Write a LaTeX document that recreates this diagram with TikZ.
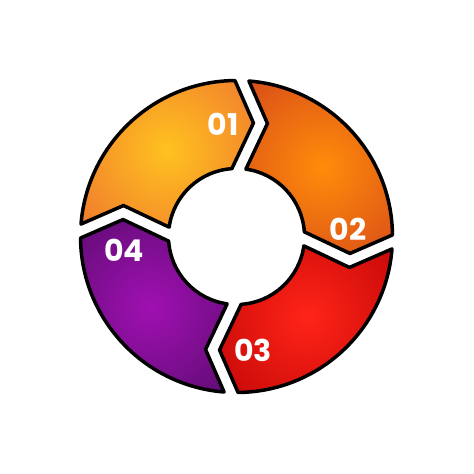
\documentclass[tikz,border=0pt]{standalone}
\usepackage{fontspec}
\setmainfont{Poppins}
\definecolor{oneIn}{HTML}{FFC21F}
\definecolor{oneOut}{HTML}{F07A2E}
\definecolor{twoIn}{HTML}{FF8C0A}
\definecolor{twoOut}{HTML}{D5481A}
\definecolor{threeIn}{HTML}{FF2418}
\definecolor{threeOut}{HTML}{C00606}
\definecolor{fourIn}{HTML}{A010B2}
\definecolor{fourOut}{HTML}{5A0C6E}
\newcommand\segpath{(87.43:156) arc[start angle=87.43, end angle=2.57, radius=156] -- (114,-13) -- (5.91:68) arc[start angle=5.91, end angle=84.09, radius=68] -- (27,114) -- cycle}
\begin{document}
\begin{tikzpicture}[x=1pt,y=1pt,
  outline/.style={draw=black, line width=3.5pt, line join=round},
  numlabel/.style={text=white, font=\bfseries\fontsize{30}{30}\selectfont, inner sep=0pt}]
\useasboundingbox[fill=white] (-236.5,-237.5) rectangle (237.5,236.5);
% segment 01
\begin{scope}
\clip[rotate=88] \segpath;
\shade[inner color=oneIn, outer color=oneOut] (-69.5,86.5) circle (115);
\end{scope}
\draw[outline, rotate=88] \segpath;
% segment 02
\begin{scope}
\clip[rotate=-2] \segpath;
\shade[inner color=twoIn, outer color=twoOut] (86.5,69.5) circle (125);
\end{scope}
\draw[outline, rotate=-2] \segpath;
% segment 03
\begin{scope}
\clip[rotate=-92] \segpath;
\shade[inner color=threeIn, outer color=threeOut] (70.5,-80.5) circle (125);
\end{scope}
\draw[outline, rotate=-92] \segpath;
% segment 04
\begin{scope}
\clip[rotate=178] \segpath;
\shade[inner color=fourIn, outer color=fourOut] (-86.5,-70.5) circle (125);
\end{scope}
\draw[outline, rotate=178] \segpath;
% labels
\node[numlabel] (l1) at (-13.5,112.5) {01};
\node[numlabel] (l2) at (111.5,7.5) {02};
\node[numlabel] (l3) at (16.5,-113.5) {03};
\node[numlabel] (l4) at (-112.5,-13.5) {04};
\end{tikzpicture}
\end{document}
